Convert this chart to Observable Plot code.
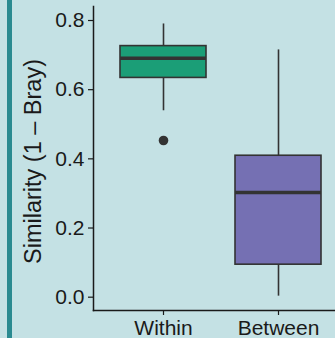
<!DOCTYPE html>
<html>
<head>
<meta charset="utf-8">
<script src="https://cdn.jsdelivr.net/npm/d3@7"></script>
<script src="https://cdn.jsdelivr.net/npm/@observablehq/plot@0.6"></script>
<style>
  html, body { margin: 0; padding: 0; background: #c4e1e4; }
  #wrap { position: relative; width: 335px; height: 338px; overflow: hidden; }
  #strip { position: absolute; left: 7px; top: 0; width: 5px; height: 338px; background: #2a8a90; z-index: 2; }
</style>
</head>
<body>
<div id="wrap"><div id="strip"></div></div>
<script>
const categories = ["Within", "Between"];
const boxColors = ["#1b9e77", "#7570b3"];
const whiskerLow = [0.539, 0.003];
const q1 = [0.634, 0.094];
const median = [0.691, 0.303];
const q3 = [0.726, 0.409];
const whiskerHigh = [0.790, 0.715];
const outlierCategory = ["Within"];
const outlierValue = [0.453];
const yTicks = [0, 0.2, 0.4, 0.6, 0.8];
const yLabel = "Similarity (1 \u2013 Bray)";

const stats = categories.map((c, i) => ({
  cat: c, low: whiskerLow[i], q1: q1[i], med: median[i], q3: q3[i], high: whiskerHigh[i]
}));
const outliers = outlierCategory.map((c, i) => ({cat: c, v: outlierValue[i]}));

const ink = "#333333";
const chart = Plot.plot({
  width: 335,
  height: 338,
  marginLeft: 93,
  marginRight: 0,
  marginTop: 6,
  marginBottom: 28,
  style: {background: "#c4e1e4", fontFamily: "'Liberation Sans', Arial, sans-serif", fontSize: "21px", color: "#1a1a1a"},
  x: {type: "band", domain: categories, range: [93, 348.2], paddingInner: 0.25, paddingOuter: 0.225},
  y: {domain: [-0.0385, 0.8405]},
  color: {domain: categories, range: boxColors},
  marks: [
    Plot.frame({anchor: "left", stroke: "#1a1a1a", strokeWidth: 1.5}),
    Plot.frame({anchor: "bottom", stroke: "#1a1a1a", strokeWidth: 1.5}),
    Plot.axisY({ticks: yTicks, tickFormat: d3.format(".1f"), tickSize: 5, tickPadding: 4, stroke: "#1a1a1a", strokeWidth: 1.2,
      label: null, fontSize: 21}),
    Plot.text([yLabel], {frameAnchor: "left", dx: -60, dy: 3, rotate: -90, textAnchor: "middle", lineAnchor: "middle",
      fontSize: 23.5, fill: "#1a1a1a"}),
    Plot.axisX({tickSize: 5, tickPadding: 5, stroke: "#1a1a1a", strokeWidth: 1.2, label: null, fontSize: 21}),
    Plot.ruleX(stats, {x: "cat", y1: "low", y2: "q1", stroke: ink, strokeWidth: 1.6}),
    Plot.ruleX(stats, {x: "cat", y1: "q3", y2: "high", stroke: ink, strokeWidth: 1.6}),
    Plot.barY(stats, {x: "cat", y1: "q1", y2: "q3", fill: "cat", stroke: ink, strokeWidth: 1.6}),
    Plot.tickY(stats, {x: "cat", y: "med", stroke: ink, strokeWidth: 3.5}),
    Plot.dot(outliers, {x: "cat", y: "v", r: 4.8, fill: ink, stroke: null})
  ]
});
document.getElementById("wrap").appendChild(chart);
</script>
</body>
</html>
